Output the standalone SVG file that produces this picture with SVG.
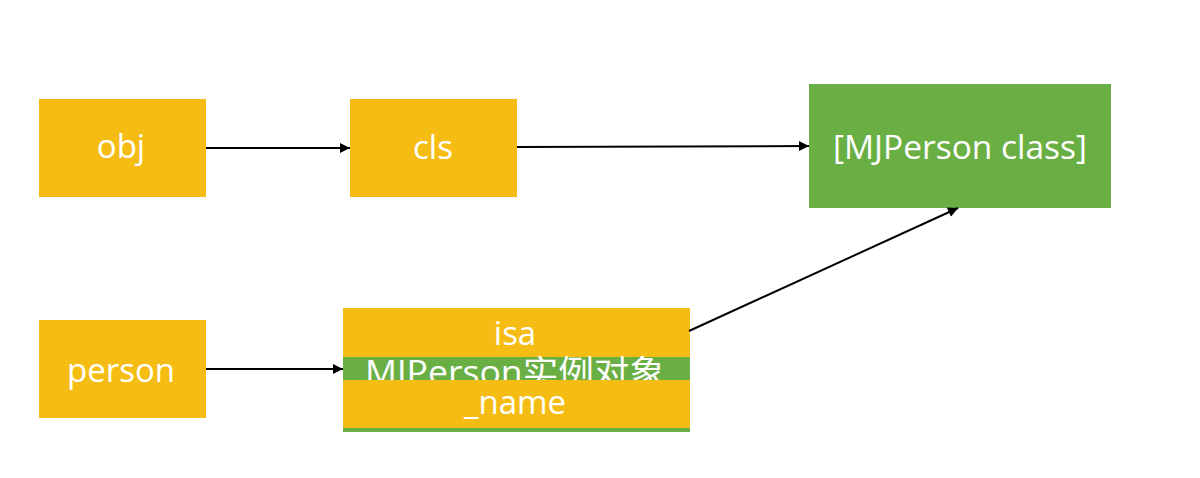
<svg xmlns="http://www.w3.org/2000/svg" width="1200" height="478" viewBox="0 0 1200 478">
<style>
.y{fill:#F5BD13}
.g{fill:#6AAF44}
.t{fill:#ffffff;font-family:"Open Sans","Noto Sans","Noto Sans CJK SC",sans-serif;font-size:33px;text-anchor:middle}
.c{stroke:#000;stroke-width:2;fill:none;marker-end:url(#ah)}
</style>
<defs>
<marker id="ah" viewBox="0 0 10 10" refX="10" refY="5" markerWidth="5.5" markerHeight="5" orient="auto" markerUnits="strokeWidth">
<path d="M0,0 L10,5 L0,10 z" fill="#000"/>
</marker>
<clipPath id="band"><rect x="343" y="300" width="347" height="80"/></clipPath>
</defs>
<rect width="1200" height="478" fill="#fff"/>
<g id="obj">
<rect class="y" x="39" y="99" width="167" height="98"/>
<text class="t" x="121" y="158">obj</text>
</g>
<g id="cls">
<rect class="y" x="350" y="99" width="167" height="98"/>
<text class="t" x="433" y="159">cls</text>
</g>
<g id="mjperson-class">
<rect class="g" x="809" y="84" width="302" height="124"/>
<text class="t" x="960" y="159" font-size="37" textLength="254" lengthAdjust="spacingAndGlyphs">[MJPerson class]</text>
</g>
<g id="person">
<rect class="y" x="39" y="320" width="167" height="98"/>
<text class="t" x="121" y="382">person</text>
</g>
<g id="instance">
<rect class="g" x="343" y="308" width="347" height="124"/>
<rect class="y" x="343" y="308" width="347" height="49"/>
<text class="t" x="515" y="345">isa</text>
<text class="t" x="515" y="384" font-size="35" clip-path="url(#band)" textLength="300" lengthAdjust="spacingAndGlyphs">MJPerson实例对象</text>
<rect class="y" x="343" y="380" width="347" height="48"/>
<text class="t" x="515" y="414">_name</text>
</g>
<g id="connectors">
<line class="c" x1="206" y1="148" x2="350" y2="148"/>
<line class="c" x1="517" y1="147" x2="809" y2="146"/>
<line class="c" x1="206" y1="369" x2="343" y2="369"/>
<line class="c" x1="689" y1="331" x2="958" y2="208"/>
</g>
</svg>
